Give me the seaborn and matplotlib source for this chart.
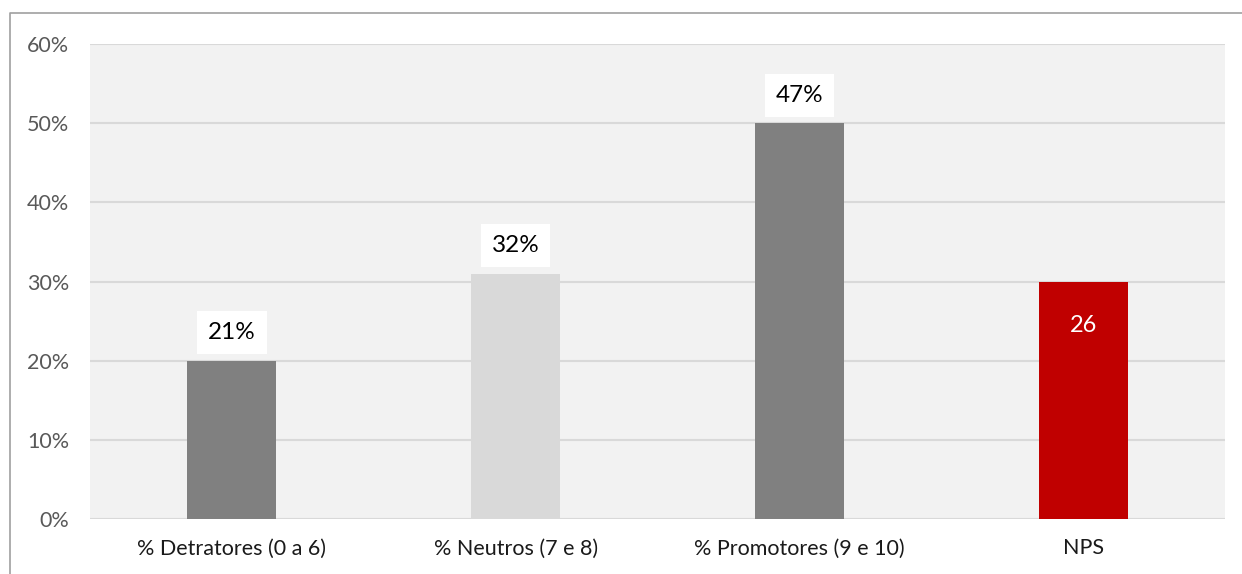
import matplotlib
matplotlib.use("Agg")
import matplotlib.pyplot as plt
import seaborn as sns
import pandas as pd
from matplotlib.lines import Line2D
from matplotlib.ticker import PercentFormatter

categories = ["% Detratores (0 a 6)", "% Neutros (7 e 8)", "% Promotores (9 e 10)", "NPS"]
values = [20, 31, 50, 30]
labels = ["21%", "32%", "47%", "26"]
colors = ["#808080", "#D9D9D9", "#808080", "#C00000"]
yticks = [0, 10, 20, 30, 40, 50, 60]

sns.set_theme(style="white")
plt.rcParams["font.family"] = ["Lato", "DejaVu Sans"]

fig = plt.figure(figsize=(12.42, 5.74), dpi=100)
ax = fig.add_axes([90/1242, 55/574, (1225-90)/1242, (519-44)/574])
ax.set_facecolor("#F2F2F2")

df = pd.DataFrame({"cat": categories, "val": values})
sns.barplot(data=df, x="cat", y="val", hue="cat", palette=colors, legend=False,
            width=0.314, ax=ax, saturation=1, linewidth=0, edgecolor="none")

ax.set_ylim(0, 60)
ax.set_xlim(-0.5, 3.5)
ax.set_yticks(yticks)
ax.yaxis.set_major_formatter(PercentFormatter(decimals=0))
ax.grid(axis="y", color="#D9D9D9", linewidth=1.5)
ax.set_axisbelow(True)
for s in ax.spines.values():
    s.set_visible(False)
ax.set_xlabel("")
ax.set_ylabel("")
ax.tick_params(axis="y", labelsize=15.5, labelcolor="#595959", length=0, pad=15)
ax.tick_params(axis="x", labelsize=15.5, labelcolor="#1a1a1a", length=0, pad=14)

for i, (v, lab) in enumerate(zip(values, labels)):
    if i < 3:
        ax.annotate(lab, (i, v), xytext=(0, 20), textcoords="offset points",
                    ha="center", va="center", fontsize=17.5, color="black",
                    bbox=dict(boxstyle="square,pad=0.45", fc="white", ec="none"))
    else:
        ax.annotate(lab, (i, v), xytext=(0, -32), textcoords="offset points",
                    ha="center", va="center", fontsize=17, color="white")

x0 = 10/1242
y0 = 1 - 13/574
fig.add_artist(Line2D([x0, x0, 1], [0, y0, y0], transform=fig.transFigure,
                      color="#A0A0A0", linewidth=1.2))

fig.savefig("out.png", dpi=100, facecolor="white")
